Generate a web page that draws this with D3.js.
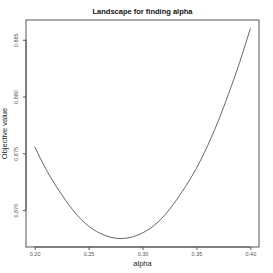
<!DOCTYPE html>
<html><head><meta charset="utf-8">
<script src="https://cdn.jsdelivr.net/npm/d3@7"></script>
<style>body{margin:0;background:#fff}svg{display:block}text{font-family:"Liberation Sans",Arial,sans-serif}</style>
</head><body><svg id="c" width="273" height="273"></svg>
<script>
const alpha = [0.20,0.21,0.22,0.23,0.24,0.25,0.26,0.27,0.28,0.29,0.30,0.31,0.32,0.33,0.34,0.35,0.36,0.37,0.38,0.39,0.40];
const objective = [0.8756,0.8737,0.8721,0.8707,0.8695,0.8686,0.8680,0.86763,0.8675,0.86763,0.8680,0.8686,0.8695,0.8707,0.8721,0.8737,0.8756,0.8778,0.8803,0.8830,0.8860];
const xTicks = [0.20,0.25,0.30,0.35,0.40];
const yTicks = [0.870,0.875,0.880,0.885];
const title = "Landscape for finding alpha";
const xLabel = "alpha";
const yLabel = "Objective value";

const svg = d3.select("#c");
const L=26, R=259, T=20, B=247;
const xmin=d3.min(alpha), xmax=d3.max(alpha), ymin=d3.min(objective), ymax=d3.max(objective);
const xp=(xmax-xmin)*0.04, yp=(ymax-ymin)*0.04;
const x=d3.scaleLinear().domain([xmin-xp,xmax+xp]).range([L,R]);
const y=d3.scaleLinear().domain([ymin-yp,ymax+yp]).range([B,T]);
const col="#555";

svg.append("rect").attr("x",L).attr("y",T).attr("width",R-L).attr("height",B-T)
  .attr("fill","none").attr("stroke",col).attr("stroke-width",1);

const line=d3.line().x((d,i)=>x(alpha[i])).y(d=>y(d)).curve(d3.curveMonotoneX);
svg.append("path").datum(objective).attr("d",line).attr("fill","none").attr("stroke",col).attr("stroke-width",0.9);

const xa=svg.append("g").attr("transform",`translate(0,${B})`)
  .call(d3.axisBottom(x).tickValues(xTicks).tickFormat(d3.format(".2f")).tickSize(3).tickPadding(2));
xa.select(".domain").attr("stroke",col).attr("d",`M${x(xTicks[0])},0H${x(xTicks[xTicks.length-1])}`);
xa.selectAll("line").attr("stroke",col);
xa.selectAll("text").attr("font-size",5.5).attr("fill","#555").style("font-family","Liberation Sans,Arial,sans-serif");

const ya=svg.append("g").attr("transform",`translate(${L},0)`)
  .call(d3.axisLeft(y).tickValues(yTicks).tickFormat(d3.format(".3f")).tickSize(3).tickPadding(3));
ya.select(".domain").attr("stroke",col).attr("d",`M0,${y(yTicks[0])}V${y(yTicks[yTicks.length-1])}`);
ya.selectAll("line").attr("stroke",col);
ya.selectAll("text").attr("font-size",5.5).attr("fill","#555").style("font-family","Liberation Sans,Arial,sans-serif")
  .attr("x",null).attr("dy",null).attr("text-anchor","middle")
  .attr("transform","translate(-8.5,0) rotate(-90)");

svg.append("text").attr("x",(L+R)/2).attr("y",13.5).attr("text-anchor","middle")
  .attr("font-size",7.5).attr("font-weight","bold").attr("fill","#111").text(title);
svg.append("text").attr("x",(L+R)/2).attr("y",265.5).attr("text-anchor","middle")
  .attr("font-size",7.5).attr("fill","#222").text(xLabel);
svg.append("text").attr("transform",`translate(7,${(T+B)/2}) rotate(-90)`).attr("text-anchor","middle")
  .attr("font-size",7.5).attr("fill","#222").text(yLabel);
</script></body></html>
